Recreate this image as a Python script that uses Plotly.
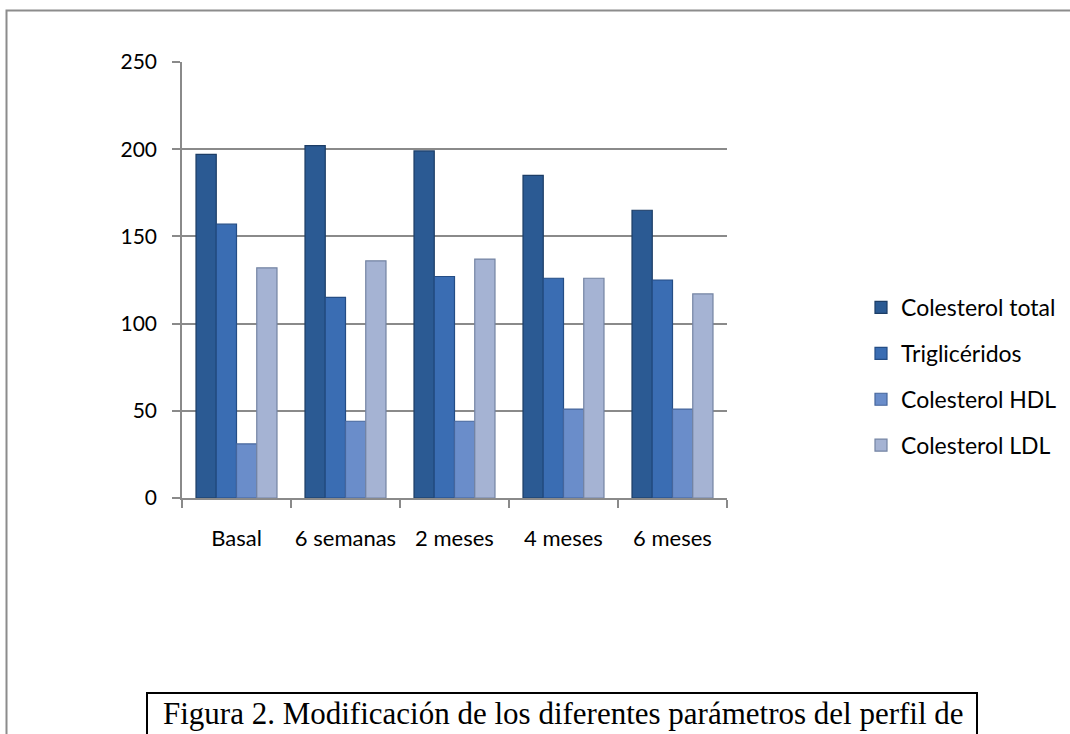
import plotly.graph_objects as go

# Time points of follow-up
categories = ["Basal", "6 semanas", "2 meses", "4 meses", "6 meses"]

# Lipid profile (mg/dL) at each time point
colesterol_total = [197, 202, 199, 185, 165]
trigliceridos = [157, 115, 127, 126, 125]
colesterol_hdl = [31, 44, 44, 51, 51]
colesterol_ldl = [132, 136, 137, 126, 117]

series_names = ["Colesterol total", "Triglicéridos", "Colesterol HDL", "Colesterol LDL"]
series_values = [colesterol_total, trigliceridos, colesterol_hdl, colesterol_ldl]
fill_colors = ["#2b5a93", "#3a6db3", "#6a8dca", "#a5b3d3"]
edge_colors = ["#1c3d66", "#244d85", "#46669c", "#7484a3"]

y_ticks = [0, 50, 100, 150, 200, 250]

W, H = 1070, 734
# plot area in pixels
PX0, PX1 = 182, 727
PY_TOP, PY_BOT = 62, 498

fig = go.Figure()
for name, vals, fc, ec in zip(series_names, series_values, fill_colors, edge_colors):
    fig.add_trace(go.Bar(
        x=categories, y=vals, name=name, legendgroup=name,
        marker=dict(color=fc, line=dict(color=ec, width=1.2)),
    ))

grid_gray = "#8a8a8a"
sans = "Lato, 'Open Sans', sans-serif"
num_font = dict(family=sans, size=21, color="#000000")
cat_font = dict(family=sans, size=22, color="#000000")
word_font = dict(family=sans, size=23, color="#000000")

fig.update_layout(
    width=W, height=H,
    margin=dict(l=0, r=0, t=0, b=0),
    paper_bgcolor="white", plot_bgcolor="white",
    barmode="group", bargap=0.257, bargroupgap=0.0,
    font=word_font,
    showlegend=True,
    legend=dict(
        x=861 / W, y=1 - 286 / H, xanchor="left", yanchor="top",
        font=word_font,
        bgcolor="rgba(0,0,0,0)", tracegroupgap=13, traceorder="grouped",
        itemwidth=30,
    ),
    xaxis=dict(
        domain=[PX0 / W, PX1 / W],
        range=[-0.5, 4.5], automargin=False,
        showline=True, linecolor=grid_gray, linewidth=1.6,
        ticks="outside", ticklen=8, tickcolor=grid_gray, tickwidth=1.6,
        tickson="boundaries", ticklabelstandoff=20, tickangle=0,
        showgrid=False, tickfont=cat_font,
    ),
    yaxis=dict(
        domain=[1 - PY_BOT / H, 1 - PY_TOP / H],
        range=[0, 250], tickvals=y_ticks, automargin=False,
        showline=True, linecolor=grid_gray, linewidth=1.6,
        ticks="outside", ticklen=8, tickcolor=grid_gray, tickwidth=1.6,
        showgrid=True, gridcolor=grid_gray, gridwidth=1.6,
        zeroline=False, ticklabelstandoff=11, tickfont=num_font,
    ),
)

# outer chart frame (continues past the right and bottom edges)
fig.add_shape(type="rect", xref="paper", yref="paper",
              x0=6.5 / W, x1=1.02, y0=-0.05, y1=1 - 10.5 / H,
              line=dict(color="#8c8c8c", width=2), fillcolor="rgba(0,0,0,0)",
              layer="below")

# caption box
fig.add_shape(type="rect", xref="paper", yref="paper",
              x0=147 / W, x1=977 / W, y0=-0.05, y1=1 - 693 / H,
              line=dict(color="#000000", width=2), fillcolor="white")
fig.add_annotation(
    xref="paper", yref="paper", x=161 / W, y=1 - 713 / H,
    xanchor="left", yanchor="middle", showarrow=False,
    text="Figura 2. Modificación de los diferentes parámetros del perfil de",
    font=dict(family="'Liberation Serif', 'Times New Roman', serif", size=31, color="#000000"),
)

fig.write_html("out.html")
